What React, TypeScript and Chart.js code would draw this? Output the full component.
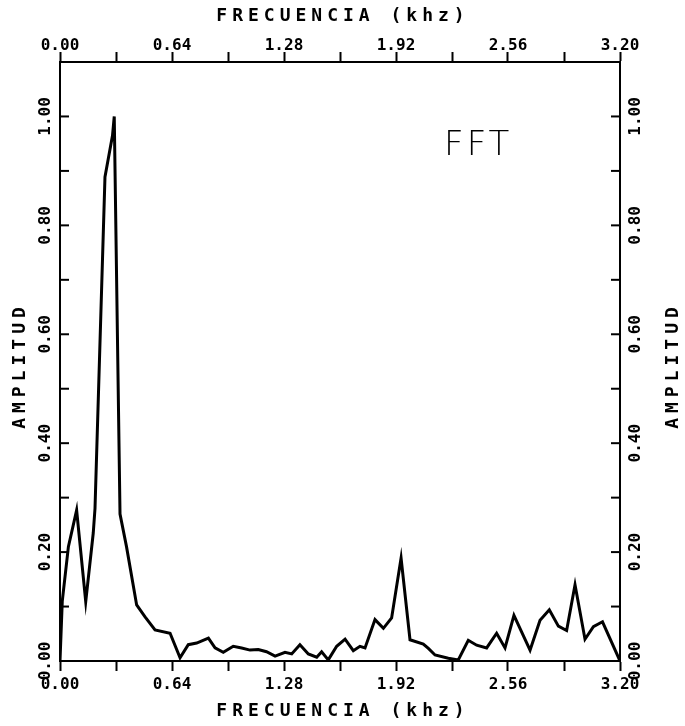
import React, { useEffect, useRef } from 'react';
import { Chart, registerables } from 'chart.js';

Chart.register(...registerables);

// Frequency (kHz) and normalised FFT amplitude
const freqKhz = [
  0, 0.013, 0.048, 0.095, 0.147, 0.19, 0.2, 0.257, 0.3, 0.31,
  0.343, 0.38, 0.438, 0.486, 0.543, 0.629, 0.686, 0.733, 0.781, 0.848,
  0.886, 0.933, 0.99, 1.038, 1.086, 1.133, 1.18, 1.229, 1.286, 1.324,
  1.371, 1.419, 1.467, 1.495, 1.533, 1.581, 1.629, 1.676, 1.714, 1.743,
  1.8, 1.848, 1.895, 1.949, 2.0, 2.076, 2.105, 2.143, 2.219, 2.276,
  2.333, 2.381, 2.438, 2.495, 2.543, 2.594, 2.686, 2.743, 2.796, 2.848,
  2.895, 2.943, 3.0, 3.048, 3.1, 3.2,
];
const amplitude = [
  0, 0.11, 0.21, 0.277, 0.109, 0.235, 0.28, 0.889, 0.965, 1.0,
  0.27, 0.21, 0.103, 0.081, 0.057, 0.051, 0.006, 0.03, 0.033, 0.042,
  0.024, 0.016, 0.027, 0.024, 0.02, 0.021, 0.017, 0.009, 0.016, 0.013,
  0.03, 0.013, 0.007, 0.017, 0.002, 0.027, 0.04, 0.019, 0.027, 0.024,
  0.076, 0.06, 0.079, 0.189, 0.039, 0.031, 0.023, 0.011, 0.005, 0.002,
  0.038, 0.029, 0.024, 0.051, 0.024, 0.084, 0.02, 0.075, 0.094, 0.064,
  0.056, 0.14, 0.04, 0.063, 0.072, 0,
];

const xMin = 0;
const xMax = 3.2;
const xStep = 0.32;
const yMin = 0;
const yMax = 1.1;
const yStep = 0.1;
const xTitle = 'FRECUENCIA (khz)';
const yTitle = 'AMPLITUD';
const noteText = 'FFT';
const notePos = { x: 2.39, y: 0.95 };

const tickFont = { family: '"DejaVu Sans Mono"', size: 16, weight: 'bold' as const };

const xLabel = (v: number) => (Math.round(v / xStep) % 2 === 0 ? v.toFixed(2) : '');
const yLabel = (v: number) =>
  Math.round(v / yStep) % 2 === 0 && v <= 1.0001 ? v.toFixed(2) : '';

const decorPlugin = {
  id: 'decor',
  afterDraw(chart: any) {
    const { ctx, chartArea: a, scales } = chart;
    ctx.save();
    ctx.strokeStyle = '#000';
    ctx.fillStyle = '#000';
    ctx.lineWidth = 2;
    // inward tick marks on the amplitude axes
    for (const id of ['y', 'y2']) {
      const s = scales[id];
      s.ticks.forEach((t: any) => {
        const py = s.getPixelForValue(t.value);
        ctx.beginPath();
        if (id === 'y') {
          ctx.moveTo(a.left, py);
          ctx.lineTo(a.left + 9, py);
        } else {
          ctx.moveTo(a.right, py);
          ctx.lineTo(a.right - 9, py);
        }
        ctx.stroke();
      });
    }
    // axis titles
    ctx.font = 'bold 18px "DejaVu Sans Mono"';
    (ctx as any).letterSpacing = '5px';
    ctx.textAlign = 'center';
    ctx.textBaseline = 'middle';
    const cx = (a.left + a.right) / 2;
    const cy = (a.top + a.bottom) / 2;
    ctx.fillText(xTitle, cx + 3, 16);
    ctx.fillText(xTitle, cx + 3, 711);
    for (const tx of [20, 673]) {
      ctx.save();
      ctx.translate(tx, cy);
      ctx.rotate(-Math.PI / 2);
      ctx.fillText(yTitle, -4, 0);
      ctx.restore();
    }
    // annotation
    (ctx as any).letterSpacing = '3px';
    ctx.font = '300 34px "DejaVu Sans"';
    ctx.fillText(noteText, scales.x.getPixelForValue(notePos.x), scales.y.getPixelForValue(notePos.y) + 2);
    ctx.restore();
  },
};

export default function App() {
  const canvasRef = useRef<HTMLCanvasElement | null>(null);

  useEffect(() => {
    if (!canvasRef.current) return;
    const data = freqKhz.map((f, i) => ({ x: f, y: amplitude[i] }));
    const xCommon = {
      type: 'linear' as const,
      min: xMin,
      max: xMax,
      grid: {
        drawOnChartArea: false,
        drawTicks: true,
        tickLength: 10,
        tickWidth: 2,
        tickColor: '#000',
      },
      border: { display: true, color: '#000', width: 2 },
      ticks: {
        stepSize: xStep,
        autoSkip: false,
        maxRotation: 0,
        minRotation: 0,
        color: '#000',
        font: tickFont,
        callback: (v: any) => xLabel(Number(v)),
      },
    };
    const yCommon = {
      type: 'linear' as const,
      min: yMin,
      max: yMax,
      grid: { drawOnChartArea: false, drawTicks: false },
      border: { display: true, color: '#000', width: 2 },
      ticks: {
        stepSize: yStep,
        autoSkip: false,
        minRotation: 90,
        maxRotation: 90,
        crossAlign: 'center' as const,
        color: '#000',
        font: tickFont,
        callback: (v: any) => yLabel(Number(v)),
      },
    };
    const chart = new Chart(canvasRef.current, {
      type: 'line',
      data: {
        datasets: [
          {
            data,
            borderColor: '#000',
            borderWidth: 3,
            pointRadius: 0,
            tension: 0,
            fill: false,
            xAxisID: 'x',
            yAxisID: 'y',
          },
        ],
      },
      options: {
        animation: false,
        responsive: true,
        maintainAspectRatio: false,
        layout: { padding: 0 },
        plugins: { legend: { display: false }, tooltip: { enabled: false } },
        scales: {
          x: {
            ...xCommon,
            position: 'bottom',
            ticks: { ...xCommon.ticks, padding: 4 },
            afterFit: (s: any) => {
              s.height = 65;
            },
          },
          x2: {
            ...xCommon,
            position: 'top',
            ticks: { ...xCommon.ticks, padding: -3 },
            afterFit: (s: any) => {
              s.height = 62;
            },
          },
          y: {
            ...yCommon,
            position: 'left',
            ticks: { ...yCommon.ticks, padding: -5 },
            afterFit: (s: any) => {
              s.width = 60;
            },
          },
          y2: {
            ...yCommon,
            position: 'right',
            ticks: { ...yCommon.ticks, padding: -3 },
            afterFit: (s: any) => {
              s.width = 65;
            },
          },
        },
      } as any,
      plugins: [decorPlugin],
    });
    return () => chart.destroy();
  }, []);

  return (
    <div style={{ position: 'absolute', left: 0, top: 0, width: 685, height: 726, background: '#fff' }}>
      <canvas ref={canvasRef} />
    </div>
  );
}
